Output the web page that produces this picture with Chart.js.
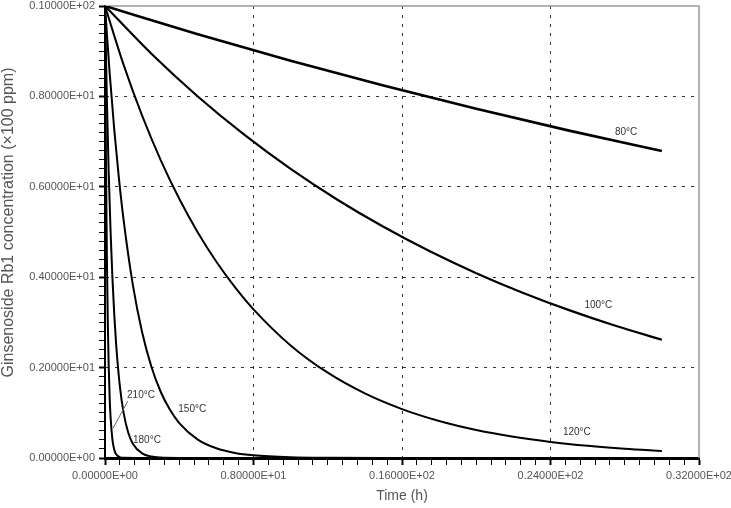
<!DOCTYPE html>
<html>
<head>
<meta charset="utf-8">
<script src="https://cdn.jsdelivr.net/npm/chart.js@4.4.1/dist/chart.umd.min.js"></script>
<style>
html,body{margin:0;padding:0;background:#fff;}
#wrap{width:731px;height:508px;position:relative;}
</style>
</head>
<body>
<div id="wrap"><canvas id="c" width="731" height="508"></canvas></div>
<script>
// ---- data ----
const seriesNames = ['80°C', '100°C', '120°C', '150°C', '180°C', '210°C'];

const time80 = [0, 5, 10, 15, 20, 25, 30];
const conc80 = [10, 9.375, 8.790, 8.241, 7.726, 7.243, 6.791];

const time100 = [0, 2.5, 5, 7.5, 10, 12.5, 15, 17.5, 20, 22.5, 25, 27.5, 30];
const conc100 = [10, 8.943, 7.997, 7.152, 6.396, 5.720, 5.115, 4.574, 4.090, 3.658, 3.271, 2.925, 2.616];

const time120 = [0, 1, 2, 3, 4, 5, 6, 7, 8, 10, 12, 14, 16, 18, 20, 22, 24, 26, 28, 30];
const conc120 = [10, 8.702, 7.573, 6.590, 5.735, 4.991, 4.343, 3.780, 3.289, 2.491, 1.887, 1.429, 1.082, 0.819, 0.620, 0.470, 0.356, 0.269, 0.204, 0.155];

const time150 = [0, 0.25, 0.5, 0.75, 1, 1.5, 2, 2.5, 3, 3.5, 4, 5, 6, 7, 8, 10, 12, 15, 20, 25, 30];
const conc150 = [10, 8.521, 7.261, 6.188, 5.273, 3.829, 2.780, 2.019, 1.466, 1.065, 0.773, 0.408, 0.215, 0.113, 0.060, 0.017, 0.005, 0, 0, 0, 0];

const time180 = [0, 0.1, 0.2, 0.3, 0.4, 0.5, 0.6, 0.8, 1, 1.25, 1.5, 2, 2.5, 3, 4, 6, 10, 20, 30];
const conc180 = [10, 7.945, 6.313, 5.016, 3.985, 3.166, 2.516, 1.588, 1.003, 0.564, 0.318, 0.101, 0.032, 0.010, 0.001, 0, 0, 0, 0];

const time210 = [0, 0.05, 0.1, 0.15, 0.2, 0.25, 0.3, 0.4, 0.5, 0.6, 0.8, 1, 2, 5, 10, 20, 30];
const conc210 = [10, 6.703, 4.493, 3.012, 2.019, 1.353, 0.907, 0.408, 0.183, 0.082, 0.017, 0.003, 0, 0, 0, 0, 0];

const xTickLabels = ['0.00000E+00', '0.80000E+01', '0.16000E+02', '0.24000E+02', '0.32000E+02'];
const yTickLabels = ['0.00000E+00', '0.20000E+01', '0.40000E+01', '0.60000E+01', '0.80000E+01', '0.10000E+02'];

const xTitle = 'Time (h)';
const yTitle = 'Ginsenoside Rb1 concentration (×100 ppm)';

// ---- presentation ----
const seriesTimes = [time80, time100, time120, time150, time180, time210];
const seriesConcs = [conc80, conc100, conc120, conc150, conc180, conc210];
const lineWidths = [2.6, 2.2, 2, 2, 2, 2];
// label anchors in data units (time, concentration)
const labelAnchors = [[28.07, 7.21], [26.58, 3.37], [25.42, 0.575], [4.7, 1.07], [2.26, 0.39], [1.94, 1.38]];
const leader210 = [[1.23, 1.26], [0.42, 0.65]];
const yTitleCenter = 5.21;

const datasets = seriesNames.map((name, i) => ({
  label: name,
  data: seriesTimes[i].map((t, j) => ({x: t, y: seriesConcs[i][j]})),
  borderColor: '#000',
  backgroundColor: '#000',
  borderWidth: lineWidths[i],
  pointRadius: 0,
  cubicInterpolationMode: 'monotone',
  fill: false
}));

const framePlugin = {
  id: 'frame',
  beforeDatasetsDraw(chart) {
    const {ctx, chartArea: a} = chart;
    ctx.save();
    ctx.strokeStyle = '#9a9a9a';
    ctx.lineWidth = 1.5;
    ctx.beginPath();
    ctx.moveTo(a.left, a.top);
    ctx.lineTo(a.right, a.top);
    ctx.lineTo(a.right, a.bottom);
    ctx.stroke();
    ctx.restore();
  },
  afterDatasetsDraw(chart) {
    const {ctx} = chart;
    const xs = chart.scales.x, ys = chart.scales.y;
    ctx.save();
    ctx.font = '10px "Liberation Sans", Arial, sans-serif';
    ctx.fillStyle = '#333';
    ctx.textAlign = 'center';
    ctx.textBaseline = 'middle';
    seriesNames.forEach((name, i) => {
      ctx.fillText(name, xs.getPixelForValue(labelAnchors[i][0]), ys.getPixelForValue(labelAnchors[i][1]));
    });
    ctx.strokeStyle = '#666';
    ctx.lineWidth = 1;
    ctx.beginPath();
    ctx.moveTo(xs.getPixelForValue(leader210[0][0]), ys.getPixelForValue(leader210[0][1]));
    ctx.lineTo(xs.getPixelForValue(leader210[1][0]), ys.getPixelForValue(leader210[1][1]));
    ctx.stroke();
    // y-axis title
    ctx.save();
    ctx.translate(9, ys.getPixelForValue(yTitleCenter));
    ctx.rotate(-Math.PI / 2);
    ctx.font = '16px "Liberation Sans", Arial, sans-serif';
    ctx.fillStyle = '#555';
    ctx.fillText(yTitle, 0, 0);
    ctx.restore();
    ctx.restore();
  }
};

const tickFont = {family: '"Liberation Sans", Arial, sans-serif', size: 11};

new Chart(document.getElementById('c'), {
  type: 'line',
  data: {datasets},
  options: {
    responsive: false,
    animation: false,
    layout: {padding: {left: 0, right: 32, top: 6, bottom: 0}},
    plugins: {legend: {display: false}, tooltip: {enabled: false}},
    scales: {
      x: {
        type: 'linear',
        min: 0, max: 32,
        afterFit(s) { s.height = 50; s.paddingLeft = 0; s.paddingRight = 0; },
        ticks: {
          stepSize: 0.8,
          autoSkip: false,
          maxRotation: 0,
          padding: 4,
          color: '#555',
          font: tickFont,
          callback: (v, i) => (i % 10 === 0 ? xTickLabels[i / 10] : '')
        },
        grid: {
          color: c => (c.index % 10 === 0 && c.index !== 0 && c.index !== 40) ? '#333' : 'transparent',
          lineWidth: 1,
          drawTicks: true,
          tickLength: 7,
          tickColor: '#000',
          tickWidth: c => (c.index % 10 === 0 ? 2 : 1)
        },
        border: {display: true, color: '#000', width: 3, dash: [3, 6]},
        title: {display: true, text: xTitle, color: '#555', font: {family: '"Liberation Sans", Arial, sans-serif', size: 14}, padding: {top: 0, bottom: 3}}
      },
      y: {
        type: 'linear',
        min: 0, max: 10,
        afterFit(s) { s.width = 105; s.paddingTop = 0; s.paddingBottom = 0; },
        ticks: {
          stepSize: 0.2,
          autoSkip: false,
          padding: 4,
          color: '#555',
          font: tickFont,
          callback: (v, i) => (i % 10 === 0 ? yTickLabels[i / 10] : '')
        },
        grid: {
          color: c => (c.index % 10 === 0 && c.index !== 0 && c.index !== 50) ? '#333' : 'transparent',
          lineWidth: 1,
          drawTicks: true,
          tickLength: 6,
          tickColor: '#000',
          tickWidth: c => (c.index % 10 === 0 ? 2 : 1)
        },
        border: {display: true, color: '#000', width: 2, dash: [3, 6]},
        title: {display: false}
      }
    }
  },
  plugins: [framePlugin]
});
</script>
</body>
</html>
